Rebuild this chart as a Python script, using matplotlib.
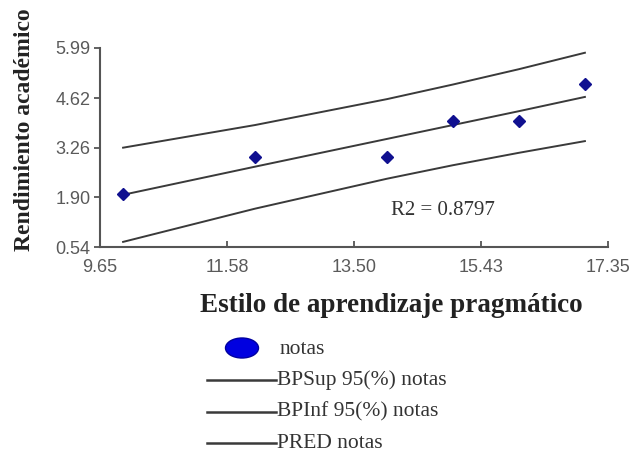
import numpy as np
import matplotlib.pyplot as plt
from matplotlib.patches import Ellipse
from matplotlib.lines import Line2D

# puntos observados (estilo pragmatico vs rendimiento)
estilo = [10, 12, 14, 15, 16, 17]
notas = [2, 3, 3, 4, 4, 5]

# bandas de prediccion
pred = [1.97, 2.74, 3.50, 3.88, 4.26, 4.65]
bp_sup = [3.26, 3.88, 4.59, 4.99, 5.41, 5.86]
bp_inf = [0.68, 1.59, 2.41, 2.78, 3.12, 3.44]

xticks = [9.65, 11.58, 13.50, 15.43, 17.35]
yticks = [0.54, 1.90, 3.26, 4.62, 5.99]

serif = ['Liberation Serif', 'DejaVu Serif']
sans = ['Liberation Sans', 'DejaVu Sans']

W, H = 635, 454
fig = plt.figure(figsize=(W/100, H/100), dpi=100)
ax = fig.add_axes([100/W, 1-247/H, 508/W, 199/H])

line_col = '#3a3a3a'
ax.plot(estilo, bp_sup, color=line_col, lw=1.4)
ax.plot(estilo, bp_inf, color=line_col, lw=1.4)
ax.plot(estilo, pred, color=line_col, lw=1.4)
ax.plot(estilo, notas, 'D', color='#101090', ms=6.5, zorder=3)

ax.set_xlim(9.65, 17.35)
ax.set_ylim(0.54, 5.99)
ax.set_xticks(xticks)
ax.set_yticks(yticks)
ax.set_xticklabels(['%.2f' % v for v in xticks])
ax.set_yticklabels(['%.2f' % v for v in yticks])

for s in ['top', 'right']:
    ax.spines[s].set_visible(False)
for s in ['left', 'bottom']:
    ax.spines[s].set_color('#555555')
    ax.spines[s].set_linewidth(1.5)

ax.tick_params(axis='x', direction='in', length=4, width=1.3, color='#555555',
               pad=9, labelsize=13, labelcolor='#5a5a5a')
ax.tick_params(axis='y', direction='out', length=4, width=1.3, color='#555555',
               pad=3, labelsize=13, labelcolor='#5a5a5a')
for lab in ax.get_xticklabels() + ax.get_yticklabels():
    lab.set_family(sans)

fig.text(443/W, 1-210/H, 'R2 = 0.8797', fontsize=15, family=serif,
         color='#333333', ha='center', va='center')

# titulos de ejes
fig.text(25/W, 1-130/H, 'Rendimiento académico', rotation=90, fontsize=17,
         fontweight='bold', family=serif, color='#222222', ha='center', va='center')
fig.text(391/W, 1-305/H, 'Estilo de aprendizaje pragmático', fontsize=19.5,
         fontweight='bold', family=serif, color='#222222', ha='center', va='center')

# leyenda
fig.add_artist(Ellipse((242/W, 1-348/H), 33/W, 20/H, transform=fig.transFigure,
                       facecolor='#0000e0', edgecolor='#0000a0'))
fig.text(280/W, 1-350/H, 'notas', fontsize=15.5, family=serif, color='#333333', va='center')
etiquetas = ['BPSup 95(%) notas', 'BPInf 95(%) notas', 'PRED notas']
ys = [380, 412, 443]
for lab, yy in zip(etiquetas, ys):
    fig.add_artist(Line2D([207/W, 276/W], [1-yy/H, 1-yy/H], transform=fig.transFigure,
                          color=line_col, lw=1.8))
    fig.text(277/W, 1-yy/H, lab, fontsize=15.5, family=serif, color='#333333', va='center')

fig.savefig('out.png', dpi=100)
